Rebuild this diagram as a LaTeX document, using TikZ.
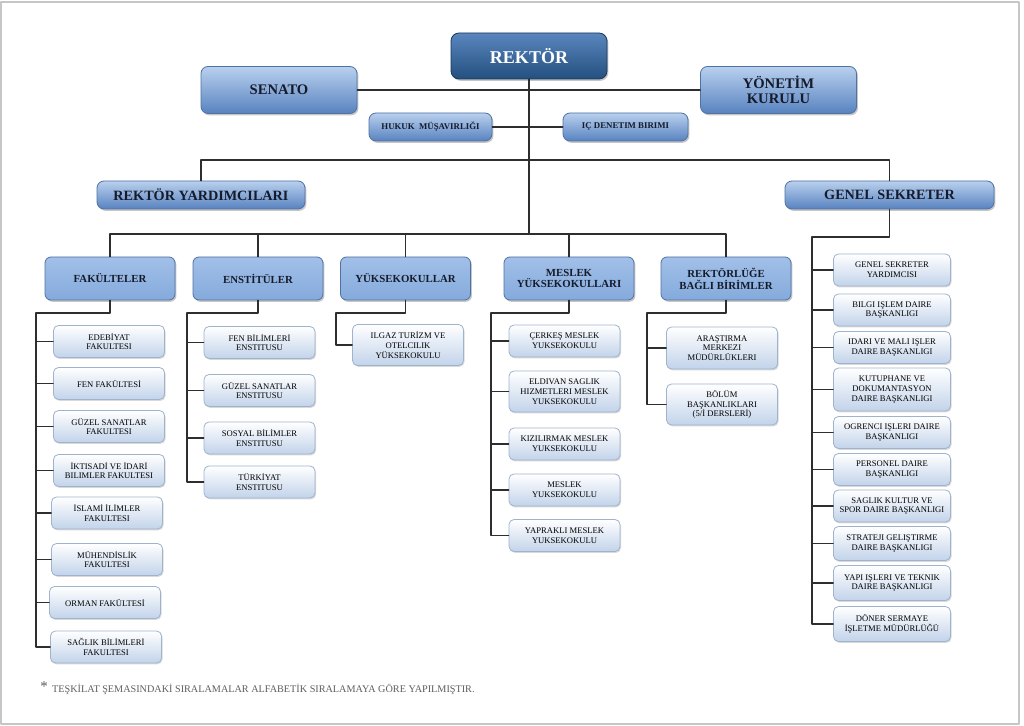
\documentclass[tikz,border=0pt]{standalone}
\usepackage{fontspec}
\setmainfont{Liberation Serif}
\usetikzlibrary{shadows}

\definecolor{baglantirenk}{HTML}{2E2E2E}
\definecolor{rektorust}{HTML}{5A86BE}
\definecolor{rektoralt}{HTML}{23507F}
\definecolor{ustacik}{HTML}{B9D0EE}
\definecolor{ustkoyu}{HTML}{5883C0}
\definecolor{grupust}{HTML}{A2C0E8}
\definecolor{grupalt}{HTML}{84AADC}
\definecolor{birimalt}{HTML}{C2D3EA}
\definecolor{kenar}{HTML}{4F72A3}
\definecolor{birimkenar}{HTML}{9FB3CC}
\definecolor{yazirenk}{HTML}{151B2B}
\definecolor{notrenk}{HTML}{5E5E5E}

\tikzset{
  baglanti/.style={draw=baglantirenk, line width=0.75pt},
  golge/.style={drop shadow={shadow xshift=0.7pt, shadow yshift=-0.9pt, opacity=0.45}},
  rektorkutu/.style={rounded corners=4pt, draw=rektoralt!70!black, top color=rektorust,
    bottom color=rektoralt, text=white, font=\bfseries\fontsize{9}{10}\selectfont,
    minimum width=78pt, minimum height=23pt, inner sep=1pt, golge},
  ustkutu/.style={rounded corners=3.5pt, draw=kenar, top color=ustacik, bottom color=ustkoyu,
    text=yazirenk, align=center, font=\bfseries\fontsize{7.3}{7.8}\selectfont,
    minimum width=78pt, minimum height=23.5pt, inner sep=1pt, golge},
  grupkutu/.style={rounded corners=3pt, draw=kenar, top color=grupust, bottom color=grupalt,
    text=yazirenk, align=center, font=\bfseries\fontsize{5.4}{5.9}\selectfont,
    minimum width=65pt, minimum height=21.5pt, inner sep=1pt, golge},
  birimkutu/.style={rounded corners=2.5pt, draw=birimkenar, top color=white, bottom color=birimalt,
    text=black, align=center, font=\fontsize{4.3}{4.9}\selectfont,
    minimum width=55.5pt, minimum height=16pt, inner sep=1pt,
    drop shadow={shadow xshift=0.5pt, shadow yshift=-0.7pt, opacity=0.3}},
  notyazi/.style={text=notrenk, font=\fontsize{5.1}{5.5}\selectfont, inner sep=0pt}
}

\begin{document}
\begin{tikzpicture}[x=0.5pt, y=-0.5pt, line cap=round, line join=round]

  % Frame of the page
  \useasboundingbox (0,0) rectangle (1024,726);
  \draw[gray!45, line width=0.6pt] (1,2) rectangle (1019,724);

  % Top level
  \node[rektorkutu] (rektor) at (529,56) {REKTÖR};
  \node[ustkutu] (senato) at (279,90) {SENATO};
  \node[ustkutu] (yonetim) at (778.5,90) {YÖNETİM\\KURULU};
  \node[ustkutu, minimum width=61.5pt, minimum height=14pt,
    font=\bfseries\fontsize{4.4}{5}\selectfont] (hukuk) at (430.5,127) {HUKUK~ MÜŞAVIRLIĞI};
  \node[ustkutu, minimum width=62.5pt, minimum height=14pt,
    font=\bfseries\fontsize{4.4}{5}\selectfont] (icdenetim) at (625.5,127) {IÇ DENETIM BIRIMI};
  \node[ustkutu, minimum width=104pt, minimum height=14pt,
    font=\bfseries\fontsize{7.1}{7.6}\selectfont] (ry) at (201,195) {REKTÖR YARDIMCILARI};
  \node[ustkutu, minimum width=104.5pt, minimum height=14pt,
    font=\bfseries\fontsize{7.1}{7.6}\selectfont] (gs) at (889.5,195) {GENEL SEKRETER};

  % Second level
  \node[grupkutu] (fakulteler) at (110,278.5) {FAKÜLTELER};
  \node[grupkutu] (enstituler) at (258,278.5) {ENSTİTÜLER};
  \node[grupkutu] (yuksek) at (405.5,278.5) {YÜKSEKOKULLAR};
  \node[grupkutu] (meslek) at (569,278.5) {MESLEK\\YÜKSEKOKULLARI};
  \node[grupkutu] (birimler) at (726,278.5) {REKTÖRLÜĞE\\BAĞLI BİRİMLER};

  % Faculties
  \node[birimkutu] (fak1) at (109,341.5) {EDEBİYAT\\FAKULTESI};
  \node[birimkutu] (fak2) at (109,383.5) {FEN FAKÜLTESİ};
  \node[birimkutu] (fak3) at (109,426.5) {GÜZEL SANATLAR\\FAKULTESI};
  \node[birimkutu] (fak4) at (109,470.5) {İKTISADİ VE İDARİ\\BILIMLER FAKULTESI};
  \node[birimkutu] (fak5) at (107,513) {İSLAMİ İLİMLER\\FAKULTESI};
  \node[birimkutu] (fak6) at (107,559.5) {MÜHENDİSLİK\\FAKULTESI};
  \node[birimkutu] (fak7) at (105,602.5) {ORMAN FAKÜLTESİ};
  \node[birimkutu] (fak8) at (106,647) {SAĞLIK BİLİMLERİ\\FAKULTESI};

  % Institutes
  \node[birimkutu] (ens1) at (259.5,342.5) {FEN BİLİMLERİ\\ENSTITUSU};
  \node[birimkutu] (ens2) at (259.5,390.5) {GÜZEL SANATLAR\\ENSTITUSU};
  \node[birimkutu] (ens3) at (259.5,438) {SOSYAL BİLİMLER\\ENSTITUSU};
  \node[birimkutu] (ens4) at (259.5,482) {TÜRKİYAT\\ENSTITUSU};

  % Schools
  \node[birimkutu, minimum height=20.5pt] (yo1) at (408,345) {ILGAZ TURİZM VE\\OTELCILIK\\YÜKSEKOKULU};

  % Vocational schools
  \node[birimkutu] (myo1) at (564.5,341) {ÇERKEŞ MESLEK\\YUKSEKOKULU};
  \node[birimkutu, minimum height=20.5pt] (myo2) at (564.5,391.5) {ELDIVAN SAGLIK\\HIZMETLERI MESLEK\\YUKSEKOKULU};
  \node[birimkutu] (myo3) at (564.5,444) {KIZILIRMAK MESLEK\\YUKSEKOKULU};
  \node[birimkutu] (myo4) at (564.5,490) {MESLEK\\YUKSEKOKULU};
  \node[birimkutu] (myo5) at (564.5,535.5) {YAPRAKLI MESLEK\\YUKSEKOKULU};

  % Units attached to the rectorate
  \node[birimkutu, minimum height=21pt] (bb1) at (722,348) {ARAŞTIRMA\\MERKEZI\\MÜDÜRLÜKLERI};
  \node[birimkutu, minimum height=20.5pt] (bb2) at (722,404.5) {BÖLÜM\\BAŞKANLIKLARI\\(5/İ DERSLERİ)};

  % General secretariat
  \node[birimkutu, minimum width=58.5pt] (gs1) at (892,270) {GENEL SEKRETER\\YARDIMCISI};
  \node[birimkutu, minimum width=58.5pt] (gs2) at (892,310) {BILGI IŞLEM DAIRE\\BAŞKANLIGI};
  \node[birimkutu, minimum width=58.5pt] (gs3) at (892,347.5) {IDARI VE MALI IŞLER\\DAIRE BAŞKANLIGI};
  \node[birimkutu, minimum width=58.5pt, minimum height=21.5pt] (gs4) at (892,389.5) {KUTUPHANE VE\\DOKUMANTASYON\\DAIRE BAŞKANLIGI};
  \node[birimkutu, minimum width=58.5pt] (gs5) at (892,432.5) {OGRENCI IŞLERI DAIRE\\BAŞKANLIGI};
  \node[birimkutu, minimum width=58.5pt] (gs6) at (892,469.5) {PERSONEL DAIRE\\BAŞKANLIGI};
  \node[birimkutu, minimum width=58.5pt] (gs7) at (892,506) {SAGLIK KULTUR VE\\SPOR DAIRE BAŞKANLIGI};
  \node[birimkutu, minimum width=58.5pt, minimum height=17pt] (gs8) at (892,543.5) {STRATEJI GELIŞTIRME\\DAIRE BAŞKANLIGI};
  \node[birimkutu, minimum width=58.5pt, minimum height=17.5pt] (gs9) at (892,583) {YAPI IŞLERI VE TEKNIK\\DAIRE BAŞKANLIGI};
  \node[birimkutu, minimum width=58.5pt, minimum height=17.5pt] (gs10) at (892,624) {DÖNER SERMAYE\\İŞLETME MÜDÜRLÜĞÜ};

  % Note under the chart
  \node[notyazi, anchor=west] (not) at (40,688)
    {\raisebox{0.6pt}{\fontsize{7.5}{7.5}\selectfont*}\, TEŞKİLAT ŞEMASINDAKİ SIRALAMALAR ALFABETİK SIRALAMAYA GÖRE YAPILMIŞTIR.};

  % Bus points
  \coordinate (ustbus) at (529,160);
  \coordinate (altbus) at (529,234);
  \coordinate (fakbus) at (36,313);
  \coordinate (ensbus) at (187,313);
  \coordinate (yobus) at (336,313);
  \coordinate (myobus) at (491,313);
  \coordinate (bbbus) at (647,313);
  \coordinate (gsbus) at (812,237);

  % Lines of the top level
  \draw[baglanti] (senato.east) -- (yonetim.west);
  \draw[baglanti] (hukuk.east) -- (icdenetim.west);
  \draw[baglanti] (rektor.south) -- (altbus);
  \draw[baglanti] (ry.north) |- (ustbus) -| (gs.north);
  \draw[baglanti] (fakulteler.north) |- (altbus) -| (birimler.north);
  \draw[baglanti] (enstituler.north) -- (enstituler.north |- altbus);
  \draw[baglanti] (yuksek.north) -- (yuksek.north |- altbus);
  \draw[baglanti] (meslek.north) -- (meslek.north |- altbus);

  % Lines to the faculties
  \draw[baglanti] (fakulteler.south) |- (fakbus) |- (fak8.west);
  \draw[baglanti] (fakbus |- fak1.west) -- (fak1.west);
  \draw[baglanti] (fakbus |- fak2.west) -- (fak2.west);
  \draw[baglanti] (fakbus |- fak3.west) -- (fak3.west);
  \draw[baglanti] (fakbus |- fak4.west) -- (fak4.west);
  \draw[baglanti] (fakbus |- fak5.west) -- (fak5.west);
  \draw[baglanti] (fakbus |- fak6.west) -- (fak6.west);
  \draw[baglanti] (fakbus |- fak7.west) -- (fak7.west);

  % Lines to the institutes
  \draw[baglanti] (enstituler.south) |- (ensbus) |- (ens4.west);
  \draw[baglanti] (ensbus |- ens1.west) -- (ens1.west);
  \draw[baglanti] (ensbus |- ens2.west) -- (ens2.west);
  \draw[baglanti] (ensbus |- ens3.west) -- (ens3.west);

  % Line to the school
  \draw[baglanti] (yuksek.south) |- (yobus) |- (yo1.west);

  % Lines to the vocational schools
  \draw[baglanti] (meslek.south) |- (myobus) |- (myo5.west);
  \draw[baglanti] (myobus |- myo1.west) -- (myo1.west);
  \draw[baglanti] (myobus |- myo2.west) -- (myo2.west);
  \draw[baglanti] (myobus |- myo3.west) -- (myo3.west);
  \draw[baglanti] (myobus |- myo4.west) -- (myo4.west);

  % Lines to the attached units
  \draw[baglanti] (birimler.south) |- (bbbus) |- (bb2.west);
  \draw[baglanti] (bbbus |- bb1.west) -- (bb1.west);

  % Lines to the general secretariat
  \draw[baglanti] (gs.south) |- (gsbus) |- (gs10.west);
  \draw[baglanti] (gsbus |- gs1.west) -- (gs1.west);
  \draw[baglanti] (gsbus |- gs2.west) -- (gs2.west);
  \draw[baglanti] (gsbus |- gs3.west) -- (gs3.west);
  \draw[baglanti] (gsbus |- gs4.west) -- (gs4.west);
  \draw[baglanti] (gsbus |- gs5.west) -- (gs5.west);
  \draw[baglanti] (gsbus |- gs6.west) -- (gs6.west);
  \draw[baglanti] (gsbus |- gs7.west) -- (gs7.west);
  \draw[baglanti] (gsbus |- gs8.west) -- (gs8.west);
  \draw[baglanti] (gsbus |- gs9.west) -- (gs9.west);

\end{tikzpicture}
\end{document}
